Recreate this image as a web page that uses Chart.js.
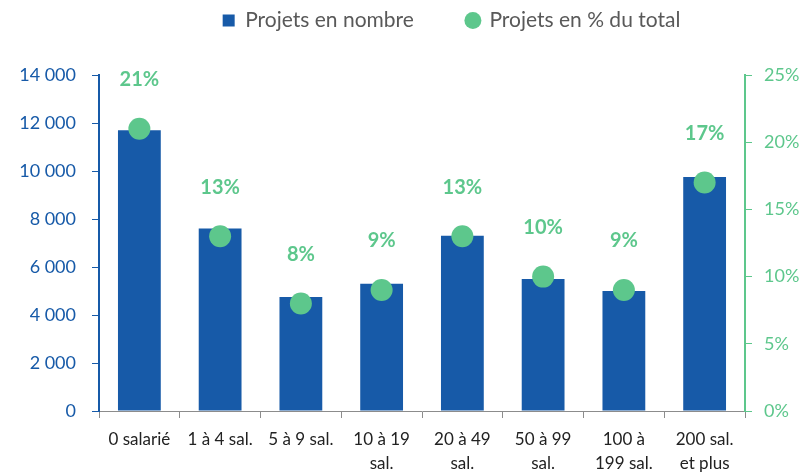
<!DOCTYPE html>
<html>
<head>
<meta charset="utf-8">
<script src="https://cdn.jsdelivr.net/npm/chart.js@4/dist/chart.umd.min.js"></script>
<style>
  html, body { margin: 0; padding: 0; background: #fff; }
  #wrap { width: 811px; height: 472px; }
</style>
</head>
<body>
<div id="wrap"><canvas id="chart"></canvas></div>
<script>
var categories = [
  ["0 salarié"], ["1 à 4 sal."], ["5 à 9 sal."], ["10 à 19", "sal."],
  ["20 à 49", "sal."], ["50 à 99", "sal."], ["100 à", "199 sal."], ["200 sal.", "et plus"]
];
var projetsNombre = [11700, 7600, 4750, 5300, 7300, 5500, 5000, 9750];
var projetsPct = [21, 13, 8, 9, 13, 10, 9, 17];

var blue = "#175AA8", green = "#5DC78C", grey = "#595959";
var font = "Lato, 'Open Sans', sans-serif";
var topPad = 34;

function spaced(v) {
  return String(v).replace(/\B(?=(\d{3})+(?!\d))/g, " ");
}

// percent labels above the dots
var pctLabels = {
  id: "pctLabels",
  afterDatasetsDraw: function (chart) {
    var meta = chart.getDatasetMeta(1), ctx = chart.ctx;
    ctx.save();
    ctx.font = "bold 20px " + font;
    ctx.fillStyle = green;
    ctx.textAlign = "center";
    ctx.textBaseline = "middle";
    meta.data.forEach(function (pt, i) {
      ctx.fillText(projetsPct[i] + "%", pt.x, pt.y - 49);
    });
    ctx.restore();
  }
};

// move legend up into the top padding and a bit to the right
var legendShift = {
  id: "legendShift",
  afterLayout: function (chart) {
    var lg = chart.legend;
    lg.top -= topPad; lg.bottom -= topPad;
    lg.left += 46; lg.right += 46;
  }
};

new Chart(document.getElementById("chart"), {
  data: {
    labels: categories,
    datasets: [
      {
        type: "bar", label: "Projets en nombre", data: projetsNombre,
        backgroundColor: blue, yAxisID: "y", order: 2,
        barPercentage: 0.53, categoryPercentage: 1, pointStyle: "rect"
      },
      {
        type: "line", label: "Projets en % du total", data: projetsPct,
        showLine: false, yAxisID: "y1", order: 1,
        pointRadius: 11, pointHoverRadius: 11, pointBackgroundColor: green,
        pointBorderWidth: 0, backgroundColor: green, borderColor: green, pointStyle: "circle"
      }
    ]
  },
  options: {
    responsive: true, maintainAspectRatio: false, animation: false,
    layout: { padding: { top: topPad, right: 0, left: 0, bottom: 0 } },
    plugins: {
      tooltip: { enabled: false },
      legend: {
        position: "top",
        labels: {
          usePointStyle: true, boxWidth: 12, boxHeight: 12, padding: 10,
          color: grey, font: { family: font, size: 21 },
          sort: function (a, b) { return a.datasetIndex - b.datasetIndex; },
          generateLabels: function (chart) {
            var items = Chart.defaults.plugins.legend.labels.generateLabels(chart);
            items.forEach(function (it) {
              it.lineWidth = 0;
              if (it.datasetIndex === 0) it.text += "\u00a0\u00a0\u00a0\u00a0\u00a0\u00a0\u00a0\u00a0";
            });
            return items;
          }
        }
      }
    },
    scales: {
      x: {
        offset: true,
        grid: { offset: true, drawOnChartArea: false, drawTicks: true, tickLength: 7, color: "#8c8c8c" },
        border: { color: "#8c8c8c" },
        ticks: { color: "#222", font: { family: font, size: 17, lineHeight: 1.4 }, maxRotation: 0, padding: 10 },
        afterFit: function (s) { s.height = 61; }
      },
      y: {
        position: "left", min: 0, max: 14000,
        ticks: { stepSize: 2000, color: blue, font: { family: font, size: 18 }, padding: 16,
          callback: function (v) { return spaced(v); } },
        grid: { drawOnChartArea: false, tickLength: 7, color: blue },
        border: { color: blue, width: 2 },
        afterFit: function (s) { s.width = 99; }
      },
      y1: {
        position: "right", min: 0, max: 25,
        ticks: { stepSize: 5, color: green, font: { family: font, size: 18 }, padding: 12,
          callback: function (v) { return v + "%"; } },
        grid: { drawOnChartArea: false, tickLength: 7, color: green },
        border: { color: green, width: 2 },
        afterFit: function (s) { s.width = 66; }
      }
    }
  },
  plugins: [pctLabels, legendShift]
});
</script>
</body>
</html>
